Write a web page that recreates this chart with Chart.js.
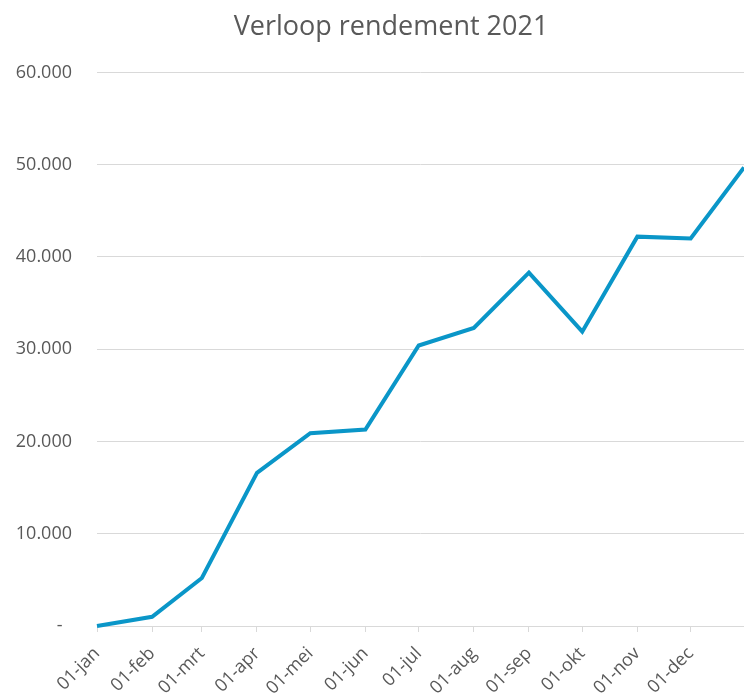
<!DOCTYPE html>
<html>
<head>
<meta charset="utf-8">
<script src="https://cdn.jsdelivr.net/npm/chart.js@4/dist/chart.umd.min.js"></script>
<style>
  html, body { margin: 0; padding: 0; background: #ffffff; }
  #wrap { width: 744px; height: 695px; }
</style>
</head>
<body>
<div id="wrap"><canvas id="c" width="744" height="695"></canvas></div>
<script>
// Data
const chartTitle = 'Verloop rendement 2021';
const monthLabels = ['01-jan','01-feb','01-mrt','01-apr','01-mei','01-jun','01-jul','01-aug','01-sep','01-okt','01-nov','01-dec'];
const dayOfYear = [0, 31, 59, 90, 120, 151, 181, 212, 243, 273, 304, 334, 364];
const rendement = [0, 1000, 5200, 16600, 20900, 21300, 30400, 32300, 38300, 31900, 42200, 42000, 49700];
const yTicks = [0, 10000, 20000, 30000, 40000, 50000, 60000];

const points = dayOfYear.map((d, i) => ({ x: d, y: rendement[i] }));
const fmt = v => v === 0 ? '-  ' : String(v).replace(/\B(?=(\d{3})+(?!\d))/g, '.');

const titleShift = {
  id: 'titleShift',
  afterLayout(chart) {
    const t = chart.titleBlock;
    if (t) { t.left += 19; t.right += 19; }
  }
};

const FONT = "'Open Sans', 'Noto Sans', sans-serif";
const GREY = '#595959';
const GRID = '#d9d9d9';

new Chart(document.getElementById('c'), {
  type: 'line',
  data: {
    datasets: [{
      data: points,
      borderColor: '#0a96c8',
      borderWidth: 4,
      pointRadius: 0,
      tension: 0,
      fill: false,
      clip: false
    }]
  },
  plugins: [titleShift],
  options: {
    responsive: false,
    animation: false,
    devicePixelRatio: 1,
    layout: { padding: { left: 0, right: 0, top: 0, bottom: 0 } },
    plugins: {
      legend: { display: false },
      tooltip: { enabled: false },
      title: {
        display: true,
        text: chartTitle,
        color: GREY,
        font: { family: FONT, size: 27, weight: 'normal' },
        padding: { top: 11, bottom: 29 }
      }
    },
    scales: {
      x: {
        type: 'linear',
        min: dayOfYear[0],
        max: dayOfYear[dayOfYear.length - 1],
        afterBuildTicks: s => { s.ticks = dayOfYear.slice(0, monthLabels.length).map(v => ({ value: v })); },
        afterFit: s => { s.height = 69; s.paddingLeft = 0; s.paddingRight = 0; },
        grid: { display: true, drawOnChartArea: false, drawTicks: true, tickLength: 6, color: GRID },
        border: { display: true, color: GRID, width: 1 },
        ticks: {
          autoSkip: false,
          minRotation: 45,
          maxRotation: 45,
          padding: 11,
          color: GREY,
          font: { family: FONT, size: 18 },
          callback: (v, i) => monthLabels[i]
        }
      },
      y: {
        min: 0,
        max: 60000,
        afterBuildTicks: s => { s.ticks = yTicks.map(v => ({ value: v })); },
        afterFit: s => { s.width = 97; },
        grid: { color: GRID, drawTicks: false, lineWidth: 1 },
        border: { display: false },
        ticks: {
          padding: 25,
          color: GREY,
          font: { family: FONT, size: 18 },
          callback: v => fmt(v)
        }
      }
    }
  }
});
</script>
</body>
</html>
